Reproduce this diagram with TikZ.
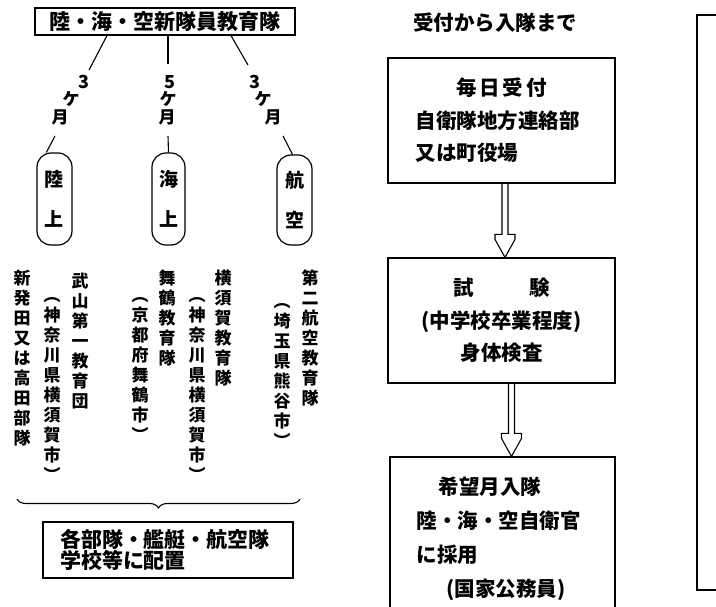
\documentclass[tikz,border=0pt]{standalone}
\usepackage{fontspec}
\setmainfont{Noto Sans CJK JP}
\usetikzlibrary{decorations.pathreplacing,calc}
\tikzset{
  frame/.style={draw, line width=1.2pt},
  conn/.style={line width=1.1pt},
  pill/.style={draw, line width=1.2pt, rounded corners=14pt, inner sep=0pt, align=center,
    font=\fontsize{19}{40}\selectfont\bfseries},
  vt/.style={inner sep=0pt, anchor=north, align=center, font=\fontsize{17}{20}\selectfont\bfseries},
  cnt/.style={inner sep=0pt, font=\fontsize{17}{17}\selectfont\bfseries},
  dig/.style={inner sep=0pt, font=\fontsize{18}{18}\selectfont\bfseries},
  midtext/.style={font=\fontsize{20.5}{32.5}\selectfont\bfseries},
}
\newcommand{\hollowarrow}[2]{%
  \draw[conn] ($(#1)+(-3,0)$) -- ($(#2)+(-3,-23)$) -- ($(#2)+(-10,-23)$) -- ($(#2)+(-10,-18)$) -- (#2)
    -- ($(#2)+(10,-18)$) -- ($(#2)+(10,-23)$) -- ($(#2)+(3,-23)$) -- ($(#1)+(3,0)$);}
\begin{document}
\begin{tikzpicture}[x=1pt,y=-1pt]
\clip (0,0) rectangle (716,607);
\fill[white] (0,0) rectangle (716,607);

% ---------- left part ----------
\node[frame, minimum width=260pt, minimum height=27pt, inner sep=0pt,
      font=\fontsize{21}{21}\selectfont\bfseries] (top) at (165,21.5) {陸・海・空新隊員教育隊};

\node[dig] (d1) at (84,82) {3};
\node[cnt] (k1) at (71,99) {ケ};
\node[cnt] (m1) at (60,117) {月};
\node[dig] (d2) at (170,82) {5};
\node[cnt] (k2) at (168,99) {ケ};
\node[cnt] (m2) at (167,117) {月};
\node[dig] (d3) at (255,82) {3};
\node[cnt] (k3) at (263,99) {ケ};
\node[cnt] (m3) at (273,117) {月};

\node[pill, minimum width=35pt, minimum height=92pt] (p1) at (54.5,199) {陸\\上};
\node[pill, minimum width=33pt, minimum height=92pt] (p2) at (168.5,199) {海\\上};
\node[pill, minimum width=35pt, minimum height=90pt] (p3) at (294.5,200) {航\\空};

\draw[conn] ([xshift=-58pt]top.south) -- ([shift={(5pt,5pt)}]d1.north);
\draw[conn] ([xshift=3pt]top.south) -- ([shift={(-2pt,11pt)}]d2.north);
\draw[conn] ([xshift=66pt]top.south) -- ([shift={(-7pt,10pt)}]d3.north);
\draw[conn] ([shift={(-5pt,-11pt)}]m1.south) -- ([xshift=10pt]p1.north west);
\draw[conn] ([shift={(1pt,-11pt)}]m2.south) -- (p2.north);
\draw[conn] ([shift={(10pt,-11pt)}]m3.south) -- ([xshift=-2pt]p3.north);

\node[vt] (v1) at (22,270) {新\\発\\田\\又\\は\\高\\田\\部\\隊};
\node[vt] (v2) at (52,297) {︵\\神\\奈\\川\\県\\横\\須\\賀\\市\\︶};
\node[vt] (v3) at (80,273) {武\\山\\第\\一\\教\\育\\団};
\node[vt] (v4) at (140,297) {︵\\京\\都\\府\\舞\\鶴\\市\\︶};
\node[vt] (v5) at (167,270) {舞\\鶴\\教\\育\\隊};
\node[vt] (v6) at (197,297) {︵\\神\\奈\\川\\県\\横\\須\\賀\\市\\︶};
\node[vt] (v7) at (223,270) {横\\須\\賀\\教\\育\\隊};
\node[vt] (v8) at (282,303) {︵\\埼\\玉\\県\\熊\\谷\\市\\︶};
\node[vt] (v9) at (310,270) {第\\二\\航\\空\\教\\育\\隊};

\coordinate (br1) at (17,499);
\coordinate (br2) at (300,499);
\draw[conn, decorate, decoration={brace, mirror, amplitude=9pt}] (br1) -- (br2);

\node[frame, minimum width=250pt, minimum height=56pt, text width=216pt, align=left, inner xsep=0pt,
      font=\fontsize{21}{20}\selectfont\bfseries] (b4) at (168,550) {各部隊・艦艇・航空隊\\学校等に配置};

% ---------- middle part ----------
\node[font=\fontsize{20.5}{20.5}\selectfont\bfseries, inner sep=0pt] (title) at (495,23) {受付から入隊まで};

\node[frame, midtext, minimum width=227pt, minimum height=125pt, text width=172pt, align=left, inner xsep=0pt]
  (b1) at (501.5,120.5) {\makebox[172pt]{毎\hspace{3pt}日\hspace{3pt}受\hspace{3pt}付}\\自衛隊地方連絡部\\又は町役場};
\node[frame, midtext, minimum width=227pt, minimum height=125pt, align=center]
  (b2) at (501.5,320.5) {試\hspace{56pt}験\\(中学校卒業程度)\\身体検査};
\node[frame, minimum width=225pt, minimum height=164pt, text width=172pt, align=left, inner xsep=0pt,
      font=\fontsize{20.5}{34}\selectfont\bfseries]
  (b3) at (502.5,539) {\hspace*{22pt}希望月入隊\\陸・海・空自衛官\\に採用\\\hspace*{30pt}(国家公務員)};

\coordinate (a1s) at ([xshift=3.5pt]b1.south);
\coordinate (a1e) at ([xshift=3.5pt]b2.north);
\coordinate (a2s) at ([xshift=10pt]b2.south);
\coordinate (a2e) at ([xshift=9pt]b3.north);
\hollowarrow{a1s}{a1e}
\hollowarrow{a2s}{a2e}

% ---------- right part ----------
\node[frame, minimum width=40pt, minimum height=575pt] (rb) at (717,302.5) {};
\end{tikzpicture}
\end{document}
